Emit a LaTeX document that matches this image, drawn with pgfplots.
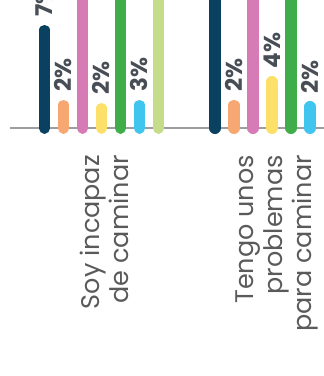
\documentclass[border=0pt]{standalone}
\usepackage{pgfplots}
\pgfplotsset{compat=1.18}
\usepackage{fontspec}
\setmainfont{Poppins}
\definecolor{cNavy}{HTML}{0B4160}
\definecolor{cOrange}{HTML}{F7A872}
\definecolor{cPink}{HTML}{D67BB5}
\definecolor{cYellow}{HTML}{FDE06A}
\definecolor{cGreen}{HTML}{3FAE4A}
\definecolor{cBlue}{HTML}{40C5EF}
\definecolor{cLime}{HTML}{C5DC8A}
\definecolor{tickgray}{HTML}{5A5A5A}
\definecolor{labgray}{HTML}{484E55}
\definecolor{basegray}{HTML}{9B9DA0}
\pgfplotsset{
  pill/.style={ybar, bar width=0.01pt, bar shift=0pt, line width=11pt,
    line join=round, line cap=round, draw=#1, fill=#1},
}
\begin{document}
\begin{tikzpicture}
\path[use as bounding box] (0,0) rectangle (324pt,376pt);
\clip (0,0) rectangle (324pt,376pt);
\begin{axis}[
  at={(10pt,239.6pt)}, anchor=south west,
  scale only axis, width=314pt, height=137.2pt,
  xmin=10, xmax=324, ymin=-0.6, ymax=9.2,
  axis line style={draw=none},
  ytick=\empty,
  xtick={104,277},
  major tick length=0pt,
  xticklabels={{Soy incapaz\\de caminar},{Tengo unos\\problemas\\para caminar}},
  xticklabel style={rotate=90, anchor=east, align=right, inner sep=0pt,
    font=\fontsize{25.5}{29}\selectfont, text=tickgray},
  xticklabel shift=18.6pt,
  extra y ticks={0}, extra y tick labels={},
  extra y tick style={grid=major, major grid style={draw=basegray, line width=1.5pt}},
  clip=true,
  point meta=explicit symbolic,
  nodes near coords,
  every node near coord/.append style={font=\bfseries\fontsize{23}{23}\selectfont,
    text=labgray, rotate=90, anchor=west, inner ysep=0pt, inner xsep=8pt},
]
\addplot[pill=cNavy]   coordinates {(44.5,7.0) [7\%] (215,30) [30\%]};
\addplot[pill=cOrange] coordinates {(63.5,1.64) [2\%] (234,1.64) [2\%]};
\addplot[pill=cPink]   coordinates {(82.5,30) [30\%] (253,30) [30\%]};
\addplot[pill=cYellow] coordinates {(101.5,1.41) [2\%] (272,3.31) [4\%]};
\addplot[pill=cGreen]  coordinates {(120.5,30) [30\%] (291,30) [30\%]};
\addplot[pill=cBlue]   coordinates {(139.5,1.64) [3\%] (310,1.52) [2\%]};
\addplot[pill=cLime]   coordinates {(158.5,30) [30\%]};
\end{axis}
\end{tikzpicture}
\end{document}
